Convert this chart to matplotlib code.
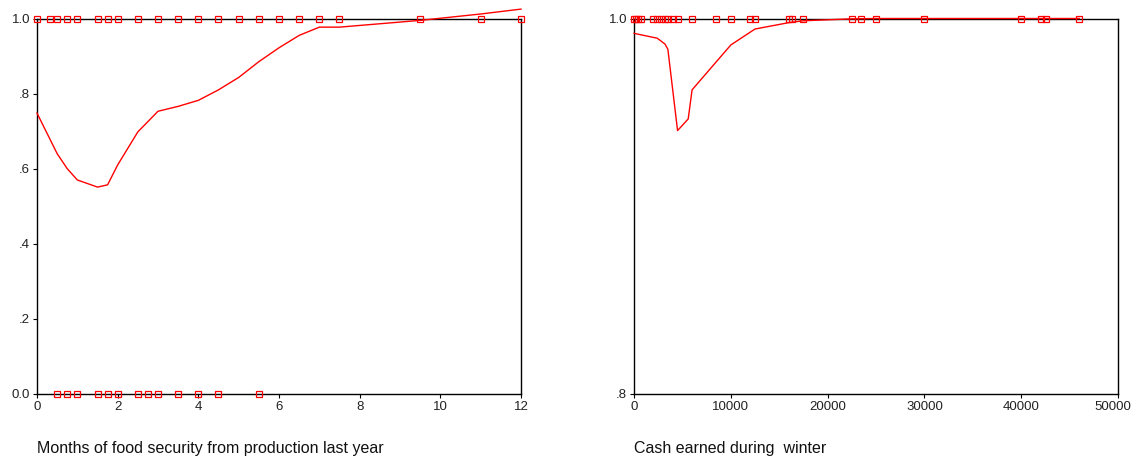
import matplotlib
matplotlib.use('Agg')
import matplotlib.pyplot as plt
import matplotlib.transforms as mtransforms
import numpy as np

plt.rcParams['font.family'] = ['Liberation Sans', 'DejaVu Sans']

# left panel: months of food security
months_obs1 = [0, 0.33, 0.5, 0.75, 1, 1.5, 1.75, 2, 2.5, 3, 3.5, 4, 4.5, 5, 5.5,
               6, 6.5, 7, 7.5, 9.5, 11, 12]
months_obs0 = [0.5, 0.75, 1, 1.5, 1.75, 2, 2.5, 2.75, 3, 3.5, 4, 4.5, 5.5]
months_fit_x = [0, 0.5, 0.75, 1, 1.5, 1.75, 2, 2.5, 3, 3.5, 4, 4.5, 5, 5.5,
                6, 6.5, 7, 7.5, 9.5, 11, 12]
months_fit_y = [0.748, 0.640, 0.600, 0.570, 0.551, 0.557, 0.610, 0.698, 0.753,
                0.766, 0.782, 0.810, 0.843, 0.885, 0.922, 0.955, 0.977, 0.977,
                0.995, 1.012, 1.025]

# right panel: cash earned during winter
cash_obs1 = [0, 200, 400, 700, 2000, 2400, 2800, 3200, 3500, 4000, 4500, 6000,
             8500, 10000, 12000, 12500, 16000, 16300, 17500, 22500, 23500, 25000,
             30000, 40000, 42000, 42600, 46000]
cash_fit_x = [0, 2400, 3200, 3500, 4500, 5600, 6000, 10000, 12500, 16000, 17500,
              22500, 25000, 30000, 40000, 46000]
cash_fit_y = [0.9921, 0.9895, 0.9864, 0.9836, 0.9403, 0.9465, 0.9620, 0.9859,
              0.9944, 0.9978, 0.9988, 0.9998, 1.0, 1.0, 1.0, 1.0]

red = '#ff0000'
W, H = 1132, 458
fig = plt.figure(figsize=(W / 100, H / 100), dpi=100)
ax1 = fig.add_axes([37 / W, 1 - 394 / H, 484 / W, 375.5 / H])
ax2 = fig.add_axes([634 / W, 1 - 394 / H, 484 / W, 375.5 / H])

mk = dict(marker='s', ls='none', ms=4.2, mfc='none', mec=red, mew=0.9, clip_on=False, zorder=5)

ax1.plot(months_obs1, np.ones(len(months_obs1)), **mk)
ax1.plot(months_obs0, np.zeros(len(months_obs0)), **mk)
ax1.plot(months_fit_x, months_fit_y, color=red, lw=1.0, clip_on=False, zorder=4)
ax1.set_xlim(0, 12)
ax1.set_ylim(0, 1)
ax1.set_xticks(np.arange(0, 13, 2))
ax1.set_yticks([0, 0.2, 0.4, 0.6, 0.8, 1.0])
ax1.set_yticklabels(['0.0', '.2', '.4', '.6', '.8', '1.0'])

ax2.plot(cash_obs1, np.ones(len(cash_obs1)), **mk)
ax2.plot(cash_fit_x, cash_fit_y, color=red, lw=1.0, clip_on=False, zorder=4)
ax2.set_xlim(0, 50000)
ax2.set_ylim(0.8, 1.0)
ax2.set_xticks(np.arange(0, 50001, 10000))
ax2.set_yticks([0.8, 1.0])
ax2.set_yticklabels(['.8', '1.0'])

for ax in (ax1, ax2):
    for s in ax.spines.values():
        s.set_linewidth(1.0)
        s.set_color('black')
    ax.tick_params(direction='out', length=3, width=0.8, labelsize=9.5, pad=2,
                   colors='black', labelcolor='#222222')

# keep the last tick label inside the figure
last = ax2.get_xticklabels()[-1]
last.set_transform(last.get_transform() +
                   mtransforms.ScaledTranslation(-5 / 100, 0, fig.dpi_scale_trans))

fig.text(37 / W, 1 - 449 / H, 'Months of food security from production last year',
         fontsize=11.5, ha='left', va='center', color='#111111')
fig.text(634 / W, 1 - 449 / H, 'Cash earned during  winter',
         fontsize=11.5, ha='left', va='center', color='#111111')

fig.savefig('out.png', dpi=100)
